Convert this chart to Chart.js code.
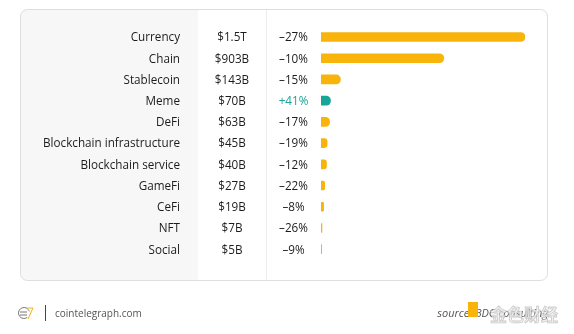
<!DOCTYPE html>
<html>
<head>
<meta charset="utf-8">
<script src="https://cdn.jsdelivr.net/npm/chart.js@4/dist/chart.umd.min.js"></script>
<style>
  html, body { margin: 0; padding: 0; background: #fff; }
  #wrap { width: 574px; height: 334px; }
</style>
</head>
<body>
<div id="wrap"><canvas id="chart" width="574" height="334"></canvas></div>
<script>
// market cap by sector, in billions of dollars
const sectors = ['Currency', 'Chain', 'Stablecoin', 'Meme', 'DeFi', 'Blockchain infrastructure',
  'Blockchain service', 'GameFi', 'CeFi', 'NFT', 'Social'];
const marketCap = [1500, 903, 143, 70, 63, 45, 40, 27, 19, 7, 5];
const capLabels = ['$1.5T', '$903B', '$143B', '$70B', '$63B', '$45B', '$40B', '$27B', '$19B', '$7B', '$5B'];
const change = [-27, -10, -15, 41, -17, -19, -12, -22, -8, -26, -9];

const ORANGE = '#f9b40c';
const TEAL = '#17a597';
const FONT = '"Open Sans", "Noto Sans", sans-serif';

function roundRect(ctx, x, y, w, h, r) {
  ctx.beginPath();
  ctx.moveTo(x + r, y);
  ctx.lineTo(x + w - r, y);
  ctx.arcTo(x + w, y, x + w, y + r, r);
  ctx.lineTo(x + w, y + h - r);
  ctx.arcTo(x + w, y + h, x + w - r, y + h, r);
  ctx.lineTo(x + r, y + h);
  ctx.arcTo(x, y + h, x, y + h - r, r);
  ctx.lineTo(x, y + r);
  ctx.arcTo(x, y, x + r, y, r);
  ctx.closePath();
}

// card, label panel and column divider behind the bars
const cardPlugin = {
  id: 'card',
  beforeDraw(chart) {
    const ctx = chart.ctx;
    ctx.save();
    ctx.fillStyle = '#fff';
    ctx.fillRect(0, 0, chart.width, chart.height);
    roundRect(ctx, 20.5, 9.5, 527, 271, 7);
    ctx.save();
    ctx.clip();
    ctx.fillStyle = '#f7f7f7';
    ctx.fillRect(20, 9, 178, 272);
    ctx.restore();
    roundRect(ctx, 20.5, 9.5, 527, 271, 7);
    ctx.strokeStyle = '#dedede';
    ctx.lineWidth = 1;
    ctx.stroke();
    ctx.beginPath();
    ctx.moveTo(266.5, 10);
    ctx.lineTo(266.5, 280);
    ctx.strokeStyle = '#ececec';
    ctx.stroke();
    ctx.restore();
  }
};

// text columns: sector name, market cap, change
const columnsPlugin = {
  id: 'columns',
  afterDatasetsDraw(chart) {
    const ctx = chart.ctx;
    const y = chart.scales.y;
    ctx.save();
    ctx.font = '11.7px ' + FONT;
    ctx.textBaseline = 'middle';
    sectors.forEach((name, i) => {
      const py = y.getPixelForValue(i) + 1;
      ctx.fillStyle = '#1c1c1c';
      ctx.textAlign = 'right';
      ctx.fillText(name, 180, py);
      ctx.textAlign = 'center';
      ctx.fillText(capLabels[i], 232, py);
      const c = change[i];
      ctx.fillStyle = c > 0 ? TEAL : '#1c1c1c';
      ctx.fillText((c > 0 ? '+' : '\u2013') + Math.abs(c) + '%', 293.5, py);
    });

    // footer
    ctx.fillStyle = '#555';
    ctx.textAlign = 'left';
    ctx.font = '10px ' + FONT;
    ctx.fillText('cointelegraph.com', 55, 314);
    ctx.strokeStyle = '#444';
    ctx.lineWidth = 1;
    ctx.beginPath();
    ctx.moveTo(45.5, 305);
    ctx.lineTo(45.5, 321);
    ctx.stroke();
    // small logo
    ctx.strokeStyle = '#777';
    ctx.beginPath();
    ctx.arc(24, 313, 5.5, 0.3 * Math.PI, 1.9 * Math.PI);
    ctx.stroke();
    ctx.beginPath();
    ctx.moveTo(20, 312); ctx.lineTo(27, 312);
    ctx.moveTo(20, 315); ctx.lineTo(27, 315);
    ctx.stroke();
    ctx.strokeStyle = ORANGE;
    ctx.beginPath();
    ctx.moveTo(27, 308); ctx.lineTo(33, 308); ctx.lineTo(28, 319);
    ctx.stroke();

    ctx.font = 'italic 11px ' + FONT;
    ctx.fillStyle = '#555';
    ctx.textAlign = 'right';
    ctx.fillText('source: BDC consulting', 548, 314);
    // watermark
    ctx.fillStyle = ORANGE;
    ctx.fillRect(468, 302, 10, 15);
    ctx.font = 'bold 17px "Noto Sans CJK SC", sans-serif';
    ctx.textAlign = 'left';
    ctx.fillStyle = 'rgba(240,240,240,0.85)';
    ctx.strokeStyle = 'rgba(170,170,170,0.6)';
    ctx.lineWidth = 0.8;
    ctx.fillText('金色财经', 490, 315);
    ctx.strokeText('金色财经', 490, 315);
    ctx.restore();
  }
};

new Chart(document.getElementById('chart'), {
  type: 'bar',
  data: {
    labels: sectors,
    datasets: [{
      data: marketCap,
      backgroundColor: change.map(c => c > 0 ? TEAL : ORANGE),
      barThickness: 9,
      borderRadius: 5,
      borderSkipped: 'start'
    }]
  },
  options: {
    indexAxis: 'y',
    responsive: false,
    animation: false,
    layout: { padding: { left: 321, right: 49, top: 26.4, bottom: 74.2 } },
    scales: {
      x: { display: false, min: 0, max: 1500 },
      y: { display: false }
    },
    plugins: {
      legend: { display: false },
      tooltip: { enabled: false }
    }
  },
  plugins: [cardPlugin, columnsPlugin]
});
</script>
</body>
</html>
